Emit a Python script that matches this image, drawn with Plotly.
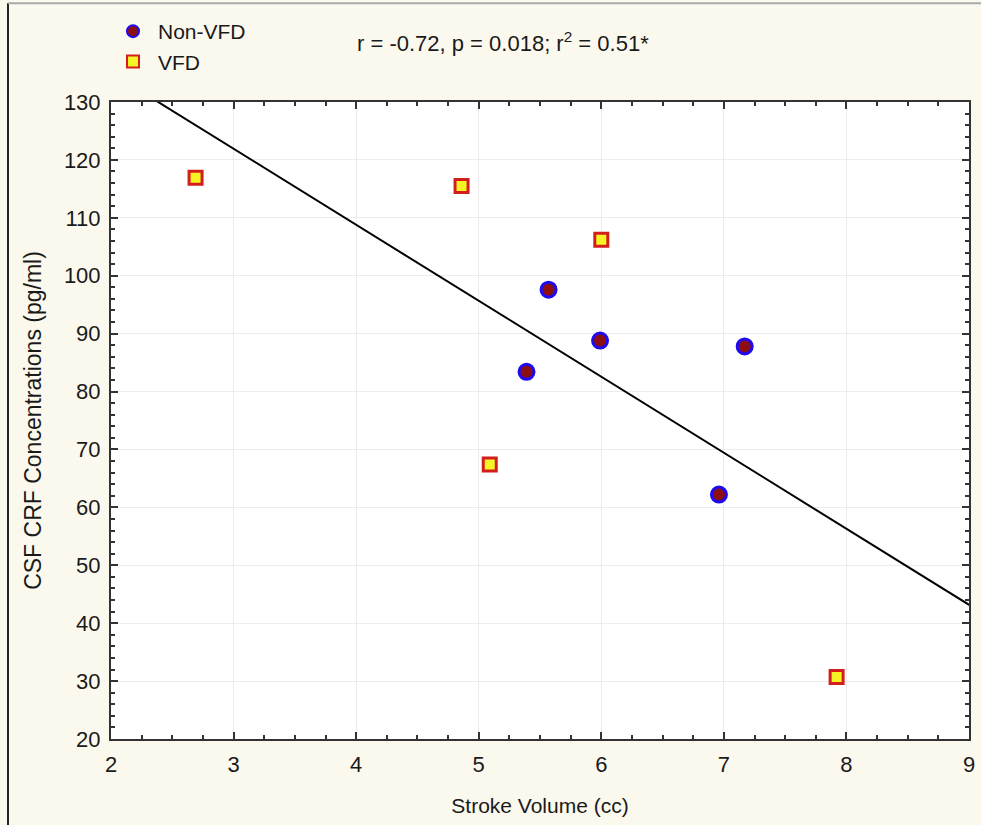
import numpy as np
import plotly.graph_objects as go

# Data
nonvfd_x = [5.57, 5.39, 5.99, 7.17, 6.96]
nonvfd_y = [97.6, 83.4, 88.8, 87.8, 62.2]
vfd_x = [2.69, 4.86, 6.00, 5.09, 7.92]
vfd_y = [116.9, 115.5, 106.2, 67.4, 30.7]
stats_text = "r = -0.72, p = 0.018; r<sup>2</sup> = 0.51*"

all_x = np.array(nonvfd_x + vfd_x)
all_y = np.array(nonvfd_y + vfd_y)
slope, intercept = np.polyfit(all_x, all_y, 1)
line_x = np.array([1.5, 9.5])
line_y = slope * line_x + intercept

FONT = "Liberation Sans, Arial, sans-serif"
TXT = "#1a1a1a"

fig = go.Figure()
fig.add_trace(go.Scatter(
    x=line_x, y=line_y, mode="lines",
    line=dict(color="black", width=2), showlegend=False, hoverinfo="skip"))
fig.add_trace(go.Scatter(
    x=nonvfd_x, y=nonvfd_y, mode="markers", name="Non-VFD",
    marker=dict(symbol="circle", size=15, color="#8B0F12",
                line=dict(color="#1E0AF0", width=3))))
fig.add_trace(go.Scatter(
    x=vfd_x, y=vfd_y, mode="markers", name="VFD",
    marker=dict(symbol="square", size=13, color="#F5F523",
                line=dict(color="#D41E1E", width=3))))

axis_common = dict(
    showline=True, linecolor="#333333", linewidth=2, mirror="ticks",
    ticks="inside", ticklen=7, tickwidth=2, tickcolor="#333333",
    showgrid=True, gridcolor="#ECECEC", gridwidth=1, zeroline=False,
    tickfont=dict(family=FONT, size=22, color=TXT), automargin=False,
)

fig.update_xaxes(
    range=[2, 9], dtick=1, tick0=2,
    minor=dict(ticks="inside", ticklen=4, tickwidth=2, tickcolor="#333333",
               dtick=0.25, showgrid=False),
    ticklabelstandoff=5,
    title=dict(text="Stroke Volume (cc)", font=dict(family=FONT, size=21, color=TXT),
               standoff=22),
    **axis_common)
fig.update_yaxes(
    range=[20, 130], dtick=10, tick0=20,
    minor=dict(ticks="inside", ticklen=4, tickwidth=2, tickcolor="#333333",
               dtick=2, showgrid=False),
    ticklabelstandoff=4,
    title=dict(text="CSF CRF Concentrations (pg/ml)", font=dict(family=FONT, size=23, color=TXT),
               standoff=16),
    **axis_common)

fig.add_annotation(
    text=stats_text, xref="paper", yref="paper",
    x=(503 - 111) / 858, y=1 + (101 - 41) / 638, xanchor="center", yanchor="middle",
    showarrow=False, font=dict(family=FONT, size=22, color=TXT))

# outer frame lines (left dark, top grey)
fig.add_shape(type="line", xref="paper", yref="paper",
              x0=(8 - 111) / 858, x1=(8 - 111) / 858, y0=-(825 - 739) / 638 - 0.01, y1=1 + 99 / 638,
              line=dict(color="#222222", width=2))
fig.add_shape(type="line", xref="paper", yref="paper",
              x0=(8 - 111) / 858, x1=(990 - 111) / 858, y0=1 + 99 / 638, y1=1 + 99 / 638,
              line=dict(color="#AAAAAA", width=2))

fig.update_layout(
    width=981, height=825,
    margin=dict(l=111, r=12, t=101, b=86),
    paper_bgcolor="#FBF9EE", plot_bgcolor="white",
    font=dict(family=FONT, color=TXT),
    legend=dict(x=(108 - 111) / 858, y=1 + (101 - 11) / 638, xanchor="left", yanchor="top",
                bgcolor="rgba(0,0,0,0)", font=dict(family=FONT, size=21, color=TXT),
                tracegroupgap=0, itemsizing="constant", itemwidth=40),
    showlegend=True,
)

fig.write_html(
    "out.html",
    config={"displayModeBar": False},
    post_script="document.body.style.margin='0';document.body.style.overflow='hidden';",
)
